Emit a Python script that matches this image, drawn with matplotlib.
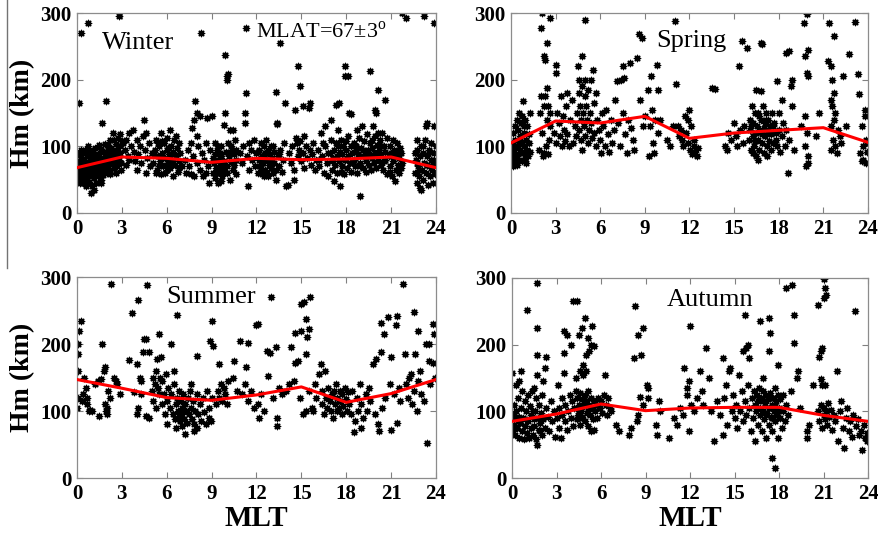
import matplotlib
matplotlib.use('Agg')
import matplotlib.pyplot as plt
from matplotlib.lines import Line2D

# MLT hours of the fitted (red) curve and its Hm values per season
curve_mlt = [0, 3, 6, 9, 12, 15, 18, 21, 24]
winter_curve = [68, 84, 82, 76, 82, 80, 81, 84, 68]
spring_curve = [105, 138, 135, 145, 112, 120, 124, 128, 106]
summer_curve = [147, 134, 120, 116, 124, 136, 113, 126, 147]
autumn_curve = [85, 96, 111, 101, 105, 106, 106, 94, 85]

# individual events (MLT, Hm in km)
winter_points = [
    (0.05, 55), (0.08, 63), (0.1, 71), (0.12, 48), (0.15, 78), (0.2, 59), (0.22, 67), (0.25, 84), (0.28, 52), (0.3, 62),
    (0.35, 73), (0.38, 90), (0.4, 45), (0.45, 57), (0.48, 66), (0.5, 80), (0.52, 95), (0.55, 50), (0.6, 61), (0.62, 70),
    (0.65, 87), (0.7, 55), (0.72, 76), (0.75, 100), (0.8, 64), (0.82, 47), (0.85, 82), (0.9, 58), (0.92, 70), (0.95, 92),
    (1.0, 40), (1.02, 62), (1.05, 75), (1.1, 86), (1.12, 53), (1.15, 68), (1.2, 97), (1.25, 60), (1.28, 79), (1.3, 45),
    (1.35, 70), (1.4, 88), (1.42, 56), (1.45, 65), (1.5, 102), (1.55, 74), (1.58, 50), (1.6, 83), (1.65, 62), (1.7, 93),
    (1.72, 70), (1.75, 57), (1.8, 80), (1.85, 88), (1.88, 66), (1.9, 104), (1.95, 75), (2.0, 60), (2.02, 85), (2.05, 95),
    (2.1, 70), (2.15, 78), (2.2, 110), (2.22, 64), (2.25, 88), (2.3, 98), (2.35, 74), (2.4, 82), (2.42, 120), (2.45, 67),
    (2.5, 92), (2.55, 78), (2.6, 103), (2.62, 86), (2.65, 70), (2.7, 95), (2.75, 112), (2.8, 80), (2.85, 90), (2.9, 100),
    (2.95, 75), (2.98, 108), (1.15, 35), (0.95, 30), (1.6, 45), (0.6, 40),
    (0.1, 88), (0.18, 45), (0.3, 95), (0.42, 60), (0.58, 75), (0.68, 52), (0.78, 68), (0.88, 95), (0.98, 55), (1.08, 92),
    (1.18, 72), (1.32, 85), (1.48, 58), (1.62, 96), (1.78, 68), (1.92, 84), (2.08, 102), (2.18, 58), (2.32, 85), (2.48, 110),
    (2.58, 72), (2.72, 85), (2.88, 118), (2.92, 65), (2.6, 60),
    (0.12, 165), (0.3, 270), (0.75, 285), (1.7, 135), (1.95, 168), (2.8, 296),
    (3.2, 95), (3.3, 110), (3.4, 85), (3.5, 120), (3.6, 100), (3.75, 125), (3.8, 92), (3.9, 78), (4.0, 110), (4.1, 88),
    (4.2, 100), (4.3, 75), (4.4, 115), (4.5, 140), (4.55, 95), (4.6, 60), (4.7, 82), (4.8, 105), (4.9, 70), (5.0, 90),
    (3.5, 80), (4.0, 65), (4.6, 120), (3.1, 105), (3.3, 72),
    (5.1, 75), (5.2, 95), (5.3, 110), (5.35, 65), (5.4, 85), (5.5, 100), (5.55, 78), (5.6, 120), (5.7, 90), (5.75, 70),
    (5.8, 105), (5.85, 60), (5.9, 82), (6.0, 95), (6.05, 112), (6.1, 75), (6.15, 88), (6.2, 125), (6.25, 68), (6.3, 100),
    (6.35, 80), (6.4, 92), (6.5, 110), (6.55, 72), (6.6, 85), (6.7, 98), (6.75, 62), (6.8, 78), (6.9, 90), (7.0, 70),
    (5.6, 58), (6.4, 55), (6.0, 65), (5.4, 105), (6.8, 105),
    (5.15, 88), (5.45, 70), (5.65, 108), (5.95, 72), (6.1, 98), (6.45, 75), (6.65, 115), (6.85, 68), (5.25, 60), (6.25, 85),
    (7.2, 80), (7.3, 60), (7.4, 95), (7.5, 70), (7.6, 105), (7.7, 128), (7.75, 85), (7.8, 140), (7.85, 55), (7.9, 168),
    (8.0, 150), (8.05, 75), (8.1, 100), (8.2, 145), (8.25, 65), (8.3, 270), (8.35, 90), (8.4, 55), (8.5, 80), (8.6, 105),
    (8.7, 143), (8.75, 70), (8.8, 45), (8.9, 95), (9.0, 145), (8.6, 60), (8.0, 115), (7.6, 58),
    (9.1, 60), (9.15, 75), (9.2, 88), (9.25, 52), (9.3, 68), (9.35, 95), (9.4, 80), (9.45, 45), (9.5, 62), (9.55, 72),
    (9.6, 100), (9.65, 85), (9.7, 55), (9.75, 66), (9.8, 132), (9.85, 78), (9.9, 150), (9.9, 237), (9.95, 92), (10.0, 205),
    (10.05, 200), (10.1, 208), (10.0, 60), (10.05, 70), (10.1, 105), (10.15, 85), (10.2, 125), (10.25, 50), (10.3, 76), (10.35, 95),
    (10.4, 125), (10.45, 65), (10.5, 88), (10.55, 110), (10.6, 58), (10.65, 80), (9.2, 105), (9.6, 48),
    (9.12, 82), (9.38, 60), (9.58, 90), (9.72, 75), (9.88, 62), (10.08, 90), (10.28, 100), (10.48, 72), (10.6, 95), (9.45, 100),
    (10.9, 90), (11.0, 75), (11.1, 100), (11.2, 135), (11.25, 150), (11.3, 180), (11.3, 278), (11.35, 85), (11.4, 40), (11.5, 65),
    (11.6, 95), (11.7, 80), (11.8, 110), (11.9, 70), (12.0, 90), (11.5, 105),
    (12.1, 60), (12.15, 80), (12.2, 95), (12.25, 70), (12.3, 105), (12.35, 58), (12.4, 85), (12.45, 75), (12.5, 100), (12.55, 90),
    (12.6, 65), (12.65, 110), (12.7, 80), (12.75, 95), (12.8, 55), (12.85, 72), (12.9, 88), (12.95, 100), (13.0, 68), (13.05, 82),
    (13.1, 60), (13.15, 92), (13.2, 75), (13.3, 182), (13.35, 135), (13.4, 133), (13.45, 85), (13.5, 70), (13.6, 255), (13.6, 95),
    (13.7, 62), (13.75, 80), (13.85, 105), (13.9, 165), (14.0, 40), (14.1, 42), (13.3, 50), (12.5, 55),
    (12.12, 92), (12.32, 68), (12.52, 82), (12.72, 60), (12.92, 75), (13.12, 100), (13.32, 65), (13.52, 88),
    (14.2, 90), (14.3, 75), (14.4, 100), (14.5, 65), (14.6, 155), (14.65, 112), (14.7, 105), (14.75, 85), (14.8, 220), (14.85, 95),
    (14.9, 190), (14.9, 108), (15.0, 78), (15.1, 160), (15.1, 90), (15.2, 68), (15.3, 100), (15.4, 82), (15.5, 158), (15.55, 95),
    (15.6, 165), (15.65, 72), (15.7, 88), (15.8, 105), (15.9, 65), (16.0, 80), (15.2, 115), (14.5, 50),
    (16.1, 95), (16.2, 70), (16.3, 120), (16.4, 85), (16.5, 60), (16.6, 100), (16.7, 75), (16.8, 55), (16.9, 90), (17.0, 110),
    (17.05, 65), (17.1, 82), (17.15, 95), (17.2, 48), (17.25, 72), (17.3, 162), (17.3, 105), (17.35, 85), (17.4, 60), (17.45, 125),
    (17.5, 165), (17.5, 78), (17.55, 92), (17.6, 40), (17.65, 110), (17.7, 70), (17.75, 88), (17.8, 100), (17.85, 58), (17.9, 205),
    (17.9, 220), (17.95, 80), (18.0, 95), (18.05, 68), (18.1, 205), (18.1, 115), (18.15, 85), (18.2, 150), (18.25, 75), (18.3, 148),
    (18.3, 100), (18.35, 62), (18.4, 90), (16.6, 130), (17.0, 140),
    (18.5, 80), (18.55, 105), (18.6, 70), (18.65, 95), (18.7, 125), (18.75, 60), (18.8, 88), (18.85, 112), (18.9, 25), (18.95, 75),
    (19.0, 98), (19.05, 130), (19.1, 68), (19.15, 85), (19.2, 108), (19.25, 92), (19.3, 62), (19.35, 78), (19.4, 118), (19.45, 95),
    (19.5, 72), (19.55, 88), (19.6, 213), (19.6, 105), (19.65, 65), (19.7, 82), (19.75, 98), (19.8, 130), (19.85, 75), (19.9, 155),
    (19.9, 115), (19.95, 90), (20.0, 150), (20.0, 68), (20.05, 102), (20.1, 185), (20.1, 120), (20.15, 80), (20.2, 95), (20.25, 110),
    (20.3, 72), (20.35, 88), (20.4, 120), (20.45, 65), (20.5, 100), (20.55, 78), (20.6, 170), (20.6, 92), (20.7, 112), (20.75, 58),
    (16.15, 80), (16.45, 105), (16.75, 90), (17.08, 78), (17.42, 100), (17.68, 62), (17.98, 108), (18.45, 78), (18.62, 100), (18.9, 70),
    (19.12, 95), (19.42, 85), (19.72, 110), (20.02, 85), (20.32, 100), (20.62, 80), (20.92, 62), (21.22, 85), (21.52, 95), (21.68, 68),
    (20.85, 85), (20.9, 100), (20.95, 70), (21.0, 90), (21.05, 55), (21.1, 110), (21.15, 78), (21.2, 95), (21.25, 48), (21.3, 65),
    (21.35, 88), (21.4, 105), (21.45, 72), (21.5, 82), (21.55, 60), (21.6, 98), (21.65, 90), (21.7, 75), (21.75, 300), (22.0, 293),
    (22.6, 60), (22.65, 80), (22.7, 45), (22.75, 95), (22.8, 70), (22.85, 55), (22.9, 85), (22.95, 38), (23.0, 100), (23.05, 65),
    (23.1, 50), (23.15, 90), (23.2, 75), (23.25, 110), (23.3, 130), (23.35, 60), (23.4, 135), (23.4, 85), (23.45, 42), (23.5, 70),
    (23.55, 95), (23.6, 55), (23.65, 80), (23.7, 105), (23.75, 65), (23.8, 45), (23.85, 90), (23.9, 130), (23.9, 72), (23.95, 58),
    (22.62, 90), (22.88, 65), (23.12, 100), (23.38, 72), (23.62, 92), (23.88, 80), (23.98, 100), (22.72, 75),
    (23.2, 295), (23.85, 285), (22.7, 110), (23.0, 35),
]

spring_points = [
    (0.02, 75), (0.05, 90), (0.08, 105), (0.1, 82), (0.12, 120), (0.15, 70), (0.2, 95), (0.25, 130), (0.28, 85), (0.3, 110),
    (0.35, 78), (0.4, 140), (0.42, 100), (0.45, 88), (0.5, 125), (0.52, 150), (0.55, 80), (0.6, 115), (0.62, 95), (0.65, 135),
    (0.7, 105), (0.72, 78), (0.75, 145), (0.8, 168), (0.8, 90), (0.85, 120), (0.9, 100), (0.92, 140), (0.95, 82), (1.0, 110),
    (1.05, 95), (1.1, 130), (1.15, 85), (1.2, 105), (1.25, 92), (1.3, 150), (1.0, 75), (0.4, 72),
    (0.18, 100), (0.58, 108), (0.88, 130), (1.18, 118),
    (1.9, 95), (1.95, 150), (2.0, 278), (2.1, 300), (2.05, 175), (2.1, 120), (2.15, 85), (2.2, 235), (2.25, 160), (2.3, 230),
    (2.3, 175), (2.35, 100), (2.4, 255), (2.4, 188), (2.45, 140), (2.5, 160), (2.55, 110), (2.6, 293), (2.6, 150), (2.65, 130),
    (2.2, 90), (2.5, 88),
    (2.9, 120), (3.0, 210), (3.0, 222), (3.05, 105), (3.1, 150), (3.2, 135), (3.3, 115), (3.35, 175), (3.4, 100), (3.5, 145),
    (3.55, 125), (3.6, 108), (3.7, 160), (3.75, 180), (3.8, 118), (3.9, 100), (4.0, 140), (4.1, 170), (4.2, 105), (4.3, 130),
    (4.4, 115), (4.45, 150),
    (4.5, 220), (4.55, 180), (4.6, 200), (4.6, 125), (4.65, 160), (4.7, 140), (4.7, 110), (4.75, 235), (4.8, 190), (4.8, 95),
    (4.85, 150), (4.9, 130), (4.95, 175), (5.0, 290), (5.0, 200), (5.0, 115), (5.05, 160), (5.1, 140), (5.15, 105), (5.2, 185),
    (5.25, 125), (5.3, 150), (5.35, 200), (5.4, 135), (5.45, 112), (5.5, 215), (5.55, 165), (5.6, 120), (5.7, 180), (5.75, 100),
    (5.8, 140), (5.9, 125), (6.0, 110), (6.05, 90), (6.1, 150), (6.2, 130), (6.3, 100), (6.4, 155), (6.5, 118), (6.6, 92),
    (6.7, 140), (6.8, 105), (6.9, 125), (7.0, 170), (7.1, 198), (7.2, 135), (7.3, 100), (7.4, 200), (7.5, 220), (7.5, 150),
    (7.6, 202), (7.7, 118), (7.8, 90), (7.9, 140), (8.0, 225), (8.1, 128), (8.2, 110), (8.3, 95), (8.5, 232), (8.6, 268),
    (8.7, 170), (8.8, 263), (8.9, 130), (9.0, 145),
    (9.2, 185), (9.3, 85), (9.35, 130), (9.4, 205), (9.5, 155), (9.55, 105), (9.6, 90), (9.7, 140), (9.8, 222), (9.9, 185),
    (9.9, 120), (10.0, 140),
    (10.5, 110), (10.7, 100), (10.9, 130), (11.0, 288), (11.1, 193), (11.2, 130), (11.3, 115), (11.4, 125), (11.5, 110), (11.6, 100),
    (11.7, 145), (11.8, 120), (11.9, 105), (12.0, 155), (12.05, 95), (12.1, 130), (12.2, 88), (12.3, 100), (12.4, 92), (12.5, 85),
    (12.6, 98), (11.9, 140), (12.3, 110),
    (13.5, 188), (13.7, 186),
    (14.4, 100), (14.5, 95), (14.6, 120), (14.8, 110), (15.0, 135), (15.1, 115), (15.2, 100), (15.3, 220), (15.4, 125), (15.5, 258),
    (15.6, 105), (15.7, 130), (15.9, 248),
    (16.0, 110), (16.05, 140), (16.1, 125), (16.15, 95), (16.2, 160), (16.25, 115), (16.3, 135), (16.35, 100), (16.4, 150), (16.45, 120),
    (16.5, 185), (16.5, 85), (16.55, 130), (16.6, 110), (16.65, 145), (16.7, 95), (16.75, 125), (16.8, 255), (16.8, 183), (16.8, 140),
    (16.85, 105), (16.9, 253), (16.9, 120), (16.95, 160), (17.0, 90), (17.05, 135), (17.1, 115), (17.15, 150), (17.2, 100), (17.25, 125),
    (17.3, 140), (17.35, 108), (17.4, 130), (17.45, 95), (17.5, 118), (17.55, 150), (17.6, 105), (17.7, 135), (17.8, 120), (17.9, 198),
    (16.12, 130), (16.42, 108), (16.62, 150), (16.88, 118), (17.12, 140), (17.38, 120), (17.62, 130), (17.82, 110), (16.3, 90), (17.0, 128),
    (17.9, 100), (18.0, 150), (18.05, 125), (18.1, 92), (18.2, 170), (18.2, 115), (18.3, 135), (18.4, 100), (18.5, 240), (18.5, 125),
    (18.6, 60), (18.7, 243), (18.7, 110), (18.8, 190), (18.9, 200), (18.9, 160), (19.0, 95), (16.6, 80), (17.2, 85),
    (19.5, 130), (19.7, 285), (19.75, 145), (19.8, 235), (19.8, 100), (19.85, 70), (19.9, 298), (19.9, 210), (19.9, 120), (20.0, 205),
    (20.0, 245), (20.0, 85), (19.95, 75), (20.7, 150), (20.5, 115),
    (21.3, 228), (21.4, 285), (21.5, 220), (21.5, 170), (21.5, 95), (21.55, 130), (21.6, 200), (21.6, 160), (21.65, 110), (21.7, 265),
    (21.7, 180), (21.75, 140), (21.8, 150), (21.8, 100), (21.9, 90), (22.0, 125), (22.1, 115), (22.2, 105),
    (22.3, 205), (22.5, 130), (22.7, 238), (23.1, 287), (23.3, 208), (23.4, 178), (23.5, 90), (23.6, 130), (23.7, 100), (23.7, 80),
    (23.8, 155), (23.8, 145), (23.85, 110), (23.9, 75), (23.95, 92), (24.0, 105), (23.6, 78),
]

summer_points = [
    (0.02, 105), (0.05, 120), (0.08, 160), (0.1, 185), (0.1, 200), (0.12, 220), (0.3, 235), (0.35, 115), (0.4, 125), (0.5, 150),
    (0.6, 135), (0.65, 110), (0.7, 120), (0.8, 100), (0.9, 102), (1.0, 100), (1.5, 92), (1.6, 148), (1.7, 200), (1.8, 160),
    (1.85, 165), (1.9, 110), (1.95, 100), (2.0, 105), (2.1, 130), (2.0, 95), (2.3, 290), (1.2, 140), (1.4, 145), (2.2, 120),
    (2.5, 150), (2.6, 145), (2.7, 140), (2.9, 125), (3.5, 176), (3.7, 247), (3.8, 128),
    (4.0, 170), (4.1, 265), (4.1, 105), (4.0, 95), (4.2, 150), (4.3, 145), (4.4, 188), (4.5, 207), (4.7, 288), (4.6, 208),
    (4.8, 188), (4.6, 92), (4.8, 90), (4.3, 125),
    (5.0, 130), (5.05, 150), (5.1, 115), (5.2, 140), (5.25, 160), (5.3, 105), (5.35, 178), (5.4, 135), (5.45, 125), (5.5, 215),
    (5.55, 150), (5.6, 180), (5.65, 110), (5.7, 145), (5.8, 125), (5.9, 95), (5.95, 155), (6.0, 115), (6.05, 80), (6.1, 135),
    (6.2, 105), (6.3, 200), (6.3, 125), (6.4, 95), (6.5, 160), (6.5, 140), (6.55, 88), (6.6, 110), (6.65, 75), (6.7, 243),
    (6.7, 120), (6.75, 100), (6.8, 92), (6.85, 130), (6.9, 85), (6.95, 115), (7.0, 78), (7.0, 105), (7.05, 95), (7.1, 125),
    (7.15, 88), (7.2, 65), (7.2, 110), (7.3, 100), (7.35, 82), (7.4, 120), (7.5, 95), (7.55, 130), (7.6, 140), (7.65, 105),
    (7.7, 88), (7.75, 115), (7.8, 70), (7.85, 80), (7.9, 100), (8.0, 182), (8.0, 125), (8.05, 75), (8.1, 95), (8.2, 110),
    (8.3, 85), (8.4, 120), (8.5, 98), (8.6, 80), (8.7, 130), (8.8, 90), (8.85, 105), (8.9, 205), (8.95, 85), (9.0, 235),
    (9.05, 120), (9.1, 197),
    (9.3, 110), (9.4, 130), (9.5, 170), (9.5, 120), (9.6, 140), (9.7, 115), (9.8, 135), (9.9, 125), (10.0, 110), (10.1, 145),
    (10.4, 150), (10.5, 175), (10.7, 130), (10.9, 205), (11.0, 125), (11.2, 140), (11.3, 165), (11.4, 202), (11.4, 115), (11.6, 130),
    (11.8, 105), (12.0, 228), (12.1, 230), (12.1, 110), (12.2, 90), (12.3, 125), (12.5, 100), (12.7, 190), (12.8, 153), (12.9, 187),
    (13.0, 270), (13.1, 120), (13.3, 195), (13.4, 78), (13.4, 90), (13.5, 135), (13.7, 125), (14.0, 130), (14.2, 140), (14.3, 195),
    (14.5, 145), (14.6, 217), (14.6, 172), (14.8, 175), (14.9, 120), (15.0, 220), (15.0, 260), (15.1, 95), (15.2, 262), (15.3, 238),
    (15.3, 185), (15.3, 100), (15.4, 210), (15.5, 222), (15.5, 130), (15.6, 270), (15.7, 105), (15.8, 100), (15.9, 140), (16.0, 120),
    (16.2, 155), (16.3, 170), (16.35, 110), (16.4, 130), (16.5, 95), (16.6, 160), (16.65, 120), (16.7, 105), (16.8, 135), (16.9, 115),
    (17.0, 100), (17.05, 125), (17.1, 90), (17.2, 130), (17.25, 110), (17.3, 140), (17.35, 100), (17.4, 120), (17.5, 105), (17.55, 130),
    (17.6, 115), (17.7, 95), (17.75, 125), (17.8, 108), (17.9, 135), (18.0, 118), (18.05, 100), (18.1, 128),
    (18.2, 110), (18.3, 95), (18.4, 130), (18.5, 68), (18.6, 85), (18.7, 120), (18.8, 100), (18.9, 140), (19.0, 75), (19.0, 110),
    (19.1, 90), (19.3, 125), (19.4, 100), (19.5, 135), (19.6, 115), (19.8, 170), (19.9, 95), (20.0, 178), (20.1, 80), (20.2, 70),
    (20.3, 232), (20.3, 188), (20.4, 105), (20.5, 215), (20.6, 120), (20.8, 240), (20.9, 140), (21.0, 180), (21.0, 72), (21.2, 125),
    (21.3, 228), (21.4, 242), (21.4, 82), (21.5, 135), (21.6, 115), (21.8, 290), (21.9, 185), (22.0, 140), (22.1, 120), (22.2, 150),
    (22.3, 155), (22.4, 110), (22.5, 248), (22.5, 130), (22.6, 185), (22.7, 100), (22.8, 220), (22.8, 145), (22.9, 160), (23.0, 125),
    (23.2, 115), (23.3, 200), (23.4, 52), (23.5, 200), (23.5, 175), (23.6, 140), (23.8, 230), (23.8, 172), (23.9, 215), (23.95, 150),
]

autumn_points = [
    (0.0, 157), (0.05, 70), (0.08, 95), (0.1, 80), (0.15, 110), (0.2, 65), (0.25, 88), (0.3, 140), (0.3, 100), (0.35, 75),
    (0.4, 120), (0.45, 60), (0.5, 145), (0.5, 92), (0.55, 82), (0.6, 160), (0.6, 105), (0.65, 70), (0.7, 130), (0.75, 90),
    (0.8, 58), (0.85, 115), (0.9, 78), (0.95, 100), (1.0, 252), (1.0, 68), (1.05, 125), (1.1, 85), (1.15, 60), (1.2, 108),
    (1.25, 75), (1.3, 95), (1.35, 130), (1.4, 65), (1.45, 88), (1.5, 135), (1.5, 78), (1.55, 100), (1.6, 58), (1.65, 120),
    (1.7, 293), (1.7, 225), (1.7, 185), (1.7, 155), (1.7, 50), (1.75, 90), (1.8, 72), (1.85, 110), (1.9, 82), (1.95, 98),
    (2.0, 65), (2.05, 125), (2.1, 145), (2.1, 88), (2.2, 165), (2.2, 75), (2.3, 182), (2.3, 105), (2.4, 92), (2.5, 70),
    (2.6, 115), (2.7, 85), (2.8, 100), (2.9, 62), (3.0, 90), (0.4, 85), (0.9, 88), (1.4, 100), (1.9, 70),
    (3.1, 140), (3.15, 75), (3.2, 105), (3.3, 60), (3.35, 95), (3.4, 120), (3.5, 188), (3.5, 157), (3.5, 220), (3.55, 85),
    (3.6, 110), (3.7, 215), (3.7, 72), (3.8, 100), (3.9, 125), (4.0, 200), (4.0, 90), (4.05, 115), (4.1, 265), (4.1, 78),
    (4.2, 105), (4.3, 150), (4.3, 130), (4.35, 88), (4.4, 265), (4.4, 120), (4.45, 95), (4.5, 215), (4.5, 110), (4.55, 80),
    (4.6, 160), (4.6, 128), (4.65, 100), (4.7, 225), (4.7, 118), (4.75, 90), (4.8, 170), (4.8, 155), (4.85, 108), (4.9, 240),
    (4.9, 125), (4.95, 85), (5.0, 185), (5.0, 160), (5.0, 115), (5.05, 98), (5.1, 210), (5.1, 130), (5.15, 78), (5.2, 190),
    (5.2, 110), (5.25, 95), (5.3, 200), (5.3, 120), (5.35, 70), (5.4, 228), (5.4, 105), (5.45, 88), (5.5, 198), (5.5, 115),
    (5.55, 72), (5.6, 100), (5.7, 110), (5.75, 90), (5.8, 120), (5.9, 105), (6.0, 115), (6.1, 98), (6.2, 125), (6.3, 155),
    (6.35, 110), (6.4, 95), (6.5, 120), (6.6, 105), (6.7, 100), (4.52, 100), (4.72, 92), (4.92, 112), (5.12, 100),
    (7.0, 80), (7.2, 70), (7.9, 65), (8.0, 75), (8.2, 180), (8.3, 258), (8.4, 85), (8.5, 215), (8.5, 95), (8.6, 122),
    (8.7, 185), (8.8, 225), (8.8, 110), (9.1, 140), (9.2, 135), (9.2, 120), (9.7, 80), (9.8, 65), (9.9, 115), (10.0, 100),
    (10.6, 60), (10.9, 90), (11.1, 80), (11.3, 105), (11.5, 95), (11.6, 165), (11.8, 135), (11.8, 125), (11.9, 145), (11.9, 70),
    (12.0, 228), (12.1, 110), (12.3, 100), (12.5, 120), (12.7, 160), (12.8, 130), (12.9, 110), (13.1, 195), (13.3, 150), (13.4, 100),
    (13.6, 55), (13.8, 115), (14.0, 95), (14.2, 180), (14.2, 65), (14.3, 120), (14.4, 140), (14.5, 80), (14.6, 160), (14.7, 165),
    (14.8, 100), (14.9, 125), (15.0, 90), (15.1, 110), (15.2, 75), (15.3, 155), (15.4, 100), (15.5, 130), (15.6, 190), (15.6, 85),
    (15.7, 245), (15.7, 115), (15.8, 195), (15.8, 95), (15.9, 200), (15.9, 140), (16.0, 180), (16.0, 105), (16.1, 70), (16.2, 120),
    (16.25, 90), (16.3, 130), (16.35, 55), (16.4, 110), (16.45, 100), (16.5, 125), (16.55, 80), (16.6, 115), (16.65, 135), (16.7, 235),
    (16.7, 95), (16.75, 105), (16.8, 120), (16.85, 70), (16.9, 150), (16.9, 100), (16.95, 130), (17.0, 88), (17.05, 112), (17.1, 125),
    (17.15, 60), (17.2, 98), (17.25, 118), (17.3, 240), (17.3, 190), (17.3, 105), (17.35, 80), (17.4, 218), (17.4, 128), (17.45, 92),
    (17.5, 30), (17.5, 110), (17.55, 70), (17.6, 120), (17.65, 100), (17.7, 15), (17.7, 135), (17.75, 85), (17.8, 115), (17.85, 95),
    (17.9, 170), (17.9, 125), (17.95, 60), (18.0, 105), (18.05, 90), (18.1, 118), (18.2, 75), (18.25, 100), (18.3, 125), (18.4, 85),
    (16.92, 115), (17.12, 95), (17.32, 120), (17.52, 90), (17.72, 108), (17.92, 100),
    (18.5, 285), (18.5, 110), (18.6, 95), (18.8, 130), (18.9, 290), (19.0, 245), (19.0, 203), (19.2, 150), (19.3, 160), (19.4, 105),
    (19.9, 70), (19.9, 60), (20.0, 80), (20.3, 140),
    (20.6, 260), (20.7, 182), (20.8, 190), (20.8, 148), (20.9, 195), (20.9, 140), (21.0, 270), (21.0, 298), (21.1, 285), (21.1, 140),
    (21.2, 275), (20.6, 100), (20.7, 85), (20.8, 110), (20.9, 75), (21.0, 95), (21.05, 105), (21.1, 88), (21.2, 100), (21.25, 80),
    (21.3, 112), (21.4, 92), (21.5, 102), (21.6, 72), (21.7, 95), (21.8, 85), (21.9, 160), (22.0, 55), (22.1, 100), (22.2, 115),
    (22.3, 75), (22.4, 45), (22.5, 90), (22.6, 105), (22.7, 70), (22.8, 85), (22.9, 62), (23.0, 95), (23.1, 250), (23.2, 78),
    (23.3, 88), (23.4, 65), (23.5, 70), (23.6, 42), (23.7, 80), (23.8, 60), (23.9, 55), (23.95, 68),
]

seasons = ['Winter', 'Spring', 'Summer', 'Autumn']
season_points = [winter_points, spring_points, summer_points, autumn_points]
season_curves = [winter_curve, spring_curve, summer_curve, autumn_curve]
label_pos = [(1.65, 246), (9.8, 249), (6.0, 261), (10.4, 258)]

plt.rcParams['font.family'] = 'Liberation Serif'
plt.rcParams['mathtext.fontset'] = 'custom'
plt.rcParams['mathtext.rm'] = 'Liberation Serif'

fig = plt.figure(figsize=(8.79, 5.38), dpi=100)
fig.add_artist(Line2D([7 / 879, 7 / 879], [1, 1 - 268 / 538], color='0.45', lw=1))

rects = [[0.0876, 0.6041, 0.4084, 0.3717],
         [0.5813, 0.6041, 0.4061, 0.3717],
         [0.0876, 0.1115, 0.4084, 0.3736],
         [0.5825, 0.1115, 0.4050, 0.3718]]

for i in range(4):
    ax = fig.add_axes(rects[i])
    xs, ys = zip(*season_points[i])
    ax.scatter(xs, ys, marker=(8, 2, 0), s=20, linewidths=1.0, color='black', zorder=2)
    ax.plot(curve_mlt, season_curves[i], color='red', lw=2.2, zorder=3)
    ax.set_xlim(0, 24)
    ax.set_ylim(0, 300)
    ax.set_xticks(range(0, 25, 3))
    ax.set_yticks([0, 100, 200, 300])
    ax.tick_params(direction='in', length=4, width=0.8, color='0.5', top=True, right=True,
                   labelsize=15, pad=4)
    for lab in ax.get_xticklabels() + ax.get_yticklabels():
        lab.set_fontweight('bold')
    for spine in ax.spines.values():
        spine.set_color('0.55')
        spine.set_linewidth(0.9)
    ax.text(label_pos[i][0], label_pos[i][1], seasons[i], fontsize=19)
    if i % 2 == 0:
        ax.set_ylabel('Hm (km)', fontsize=20, fontweight='bold', labelpad=4)
    if i >= 2:
        ax.set_xlabel('MLT', fontsize=21, fontweight='bold', labelpad=1)
    if i == 0:
        ax.text(12.0, 262, 'MLAT=67\u00b13$^{\\mathrm{o}}$', fontsize=16)

fig.savefig('out.png', dpi=100)
